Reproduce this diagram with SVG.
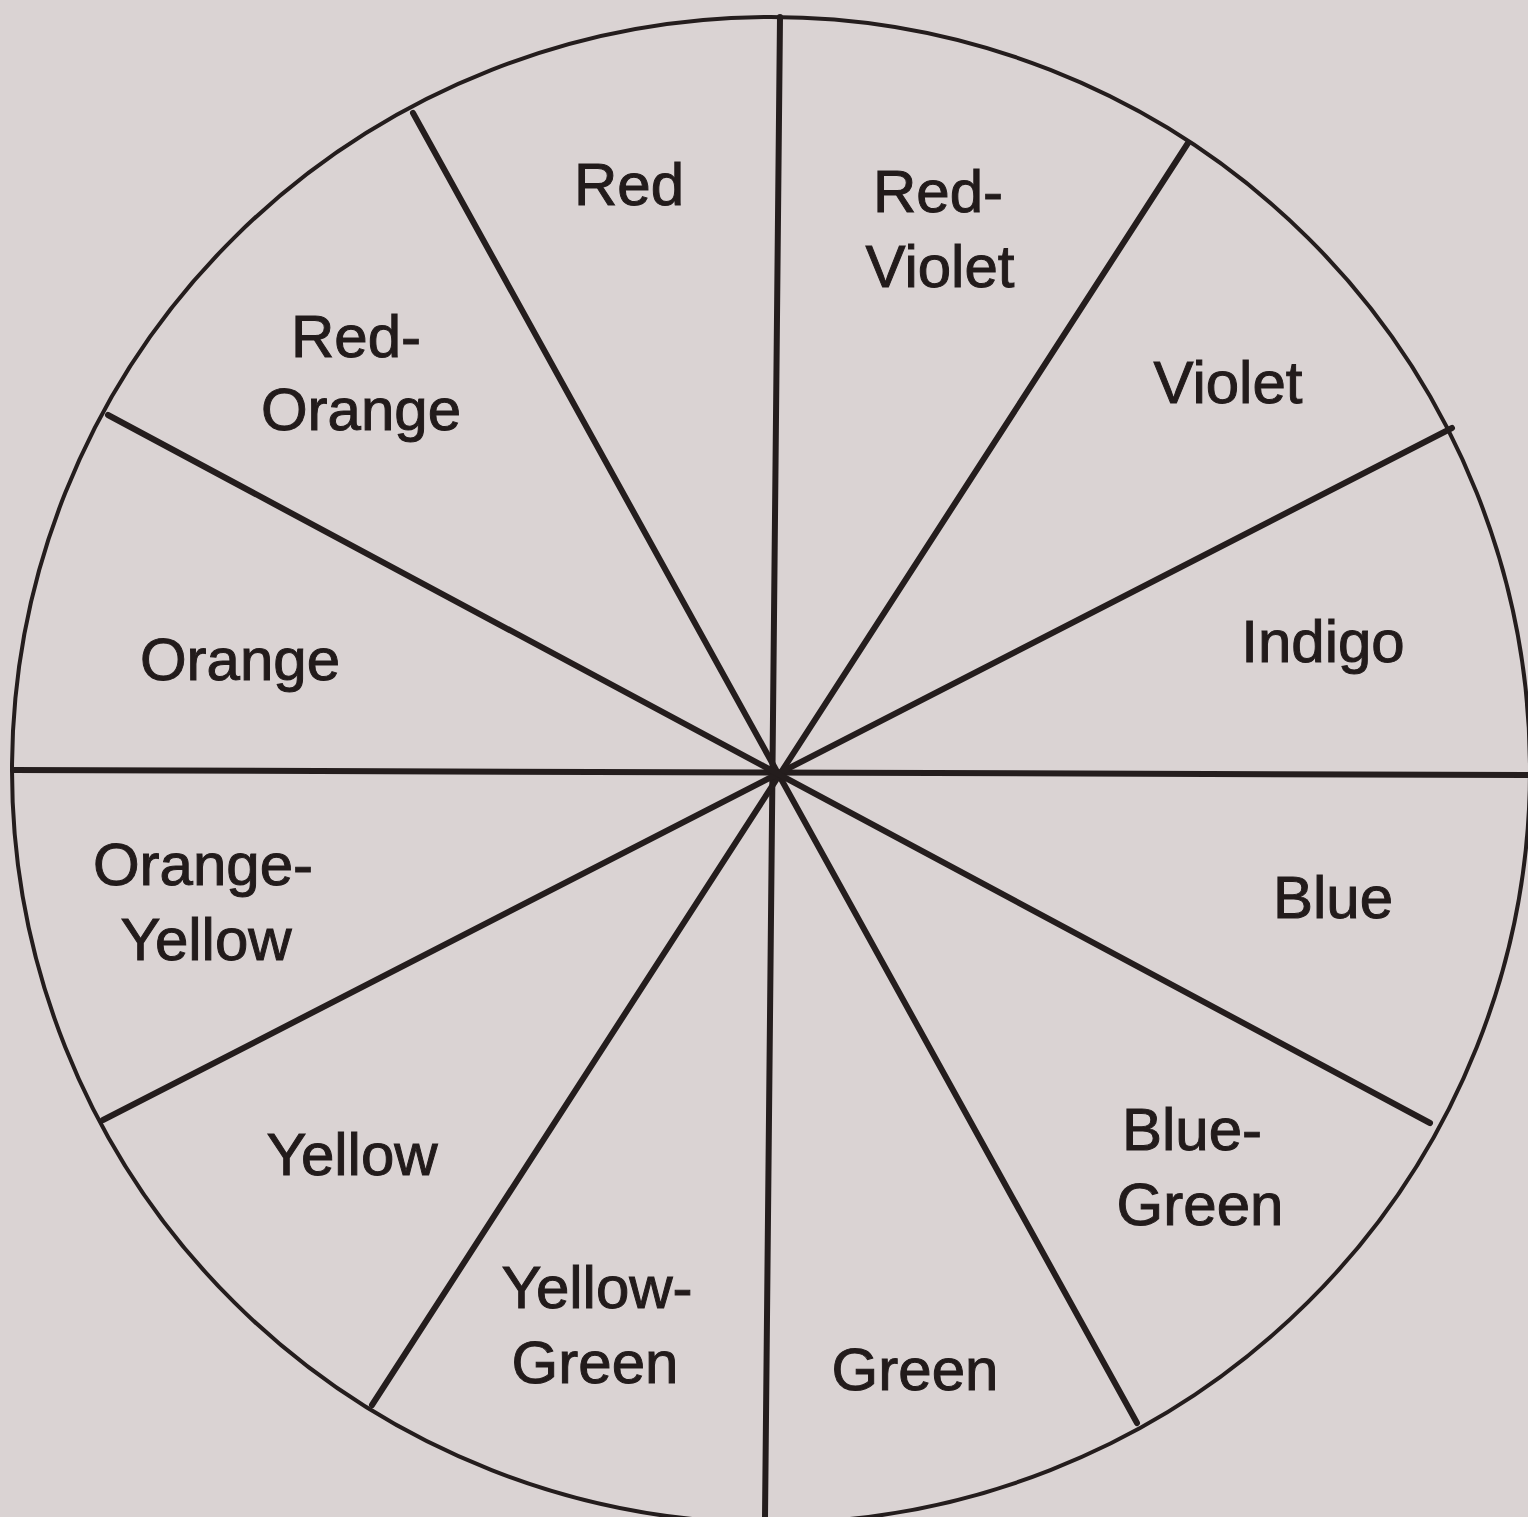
<svg xmlns="http://www.w3.org/2000/svg" width="1528" height="1517" viewBox="0 0 1528 1517">
<style>
.bg{fill:#dad3d3}
.rim{fill:none;stroke:#241d1d;stroke-width:4}
.spoke{stroke:#241d1d;stroke-width:6;stroke-linecap:round}
text{font-family:"Liberation Sans",Arial,sans-serif;font-size:60px;fill:#221b1b;text-anchor:middle;stroke:#221b1b;stroke-width:1}
</style>
<rect class="bg" x="0" y="0" width="1528" height="1517"/>
<g id="wheel">
<ellipse class="rim" cx="771" cy="770" rx="759" ry="753"/>
</g>
<g id="connectors">
<line class="spoke" x1="780" y1="17" x2="765" y2="1517"/>
<line class="spoke" x1="13" y1="770" x2="1528" y2="775"/>
<line class="spoke" x1="413" y1="113" x2="1137" y2="1423"/>
<line class="spoke" x1="1188" y1="143" x2="372" y2="1405"/>
<line class="spoke" x1="1452" y1="428" x2="103" y2="1120"/>
<line class="spoke" x1="108" y1="415" x2="1430" y2="1123"/>
</g>
<g id="red"><text x="629" y="205">Red</text></g>
<g id="red-violet"><text x="938" y="212">Red-</text><text x="940" y="287">Violet</text></g>
<g id="violet"><text x="1228" y="403">Violet</text></g>
<g id="indigo"><text x="1323" y="662">Indigo</text></g>
<g id="blue"><text x="1333" y="918">Blue</text></g>
<g id="blue-green"><text x="1192" y="1150">Blue-</text><text x="1200" y="1225">Green</text></g>
<g id="green"><text x="915" y="1390">Green</text></g>
<g id="yellow-green"><text x="597" y="1308">Yellow-</text><text x="595" y="1383">Green</text></g>
<g id="yellow"><text x="352" y="1175">Yellow</text></g>
<g id="orange-yellow"><text x="203" y="885">Orange-</text><text x="206" y="960">Yellow</text></g>
<g id="orange"><text x="240" y="680">Orange</text></g>
<g id="red-orange"><text x="356" y="357">Red-</text><text x="361" y="430">Orange</text></g>
</svg>
